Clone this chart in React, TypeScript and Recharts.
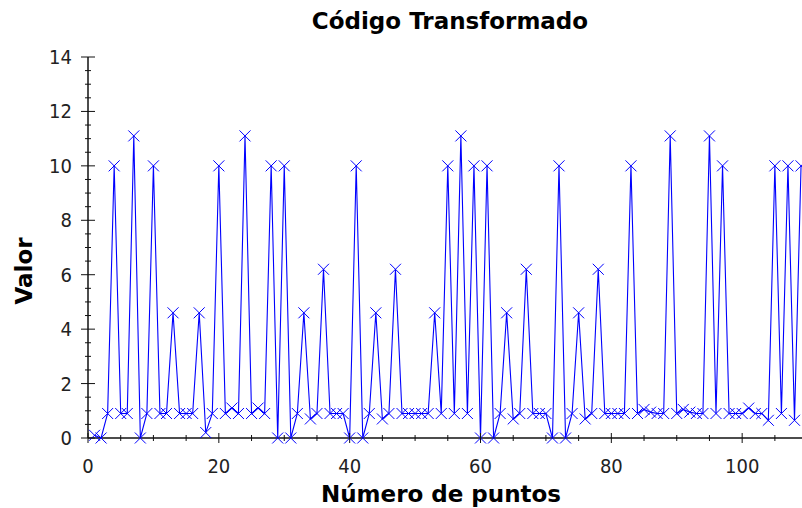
import { LineChart, Line, XAxis, YAxis } from 'recharts';

// values, one per point (points 1..109)
const valores = [
  0.1, 0, 0.9, 10, 0.9, 0.9, 11.1, 0, 0.9, 10,
  0.9, 0.9, 4.6, 0.9, 0.9, 0.9, 4.6, 0.2, 0.9, 10,
  0.9, 1.1, 0.9, 11.1, 0.9, 1.1, 0.9, 10, 0, 10,
  0, 0.9, 4.6, 0.7, 0.9, 6.2, 0.9, 0.9, 0.9, 0,
  10, 0, 0.9, 4.6, 0.7, 0.9, 6.2, 0.9, 0.9, 0.9,
  0.9, 0.9, 4.6, 0.9, 10, 0.9, 11.1, 0.9, 10, 0,
  10, 0, 0.9, 4.6, 0.7, 0.9, 6.2, 0.9, 0.9, 0.9,
  0, 10, 0, 0.9, 4.6, 0.7, 0.9, 6.2, 0.9, 0.9,
  0.9, 0.9, 10, 0.9, 1.05, 0.95, 0.9, 0.9, 11.1, 0.9,
  1.05, 0.95, 0.9, 0.9, 11.1, 0.9, 10, 0.9, 0.9, 0.9,
  1.1, 0.9, 0.9, 0.65, 10, 0.9, 10, 0.65, 10,
];

const xTicks = [0, 5, 10, 15, 20, 25, 30, 35, 40, 45, 50, 55, 60, 65, 70, 75, 80, 85, 90, 95, 100, 105, 110, 115, 120];
const xLabels = [0, 20, 40, 60, 80, 100];
const yTicks = [
  0, 0.5, 1, 1.5, 2, 2.5, 3, 3.5, 4, 4.5, 5, 5.5, 6, 6.5, 7,
  7.5, 8, 8.5, 9, 9.5, 10, 10.5, 11, 11.5, 12, 12.5, 13, 13.5, 14,
];
const yLabels = [0, 2, 4, 6, 8, 10, 12, 14];

const data = valores.map((valor, i) => ({ punto: i + 1, valor }));

const BLUE = '#0000ff';
const AXIS = '#111';
const tickFont = "'Liberation Sans Narrow', 'DejaVu Sans Condensed', 'Liberation Sans', sans-serif";
const titleFont = "'DejaVu Sans', Verdana, sans-serif";

function BottomTick({ x, y, payload }: any) {
  const major = xLabels.includes(payload.value);
  const len = major ? 5 : 3;
  return (
    <g>
      <line x1={x} x2={x} y1={y - len} y2={y + len} stroke={AXIS} />
      {major && (
        <text x={x} y={y + 35} textAnchor="middle" fontSize={20} fontFamily={tickFont} fill="#222">
          {payload.value}
        </text>
      )}
    </g>
  );
}

function TopTick({ x, y, payload }: any) {
  const major = xLabels.includes(payload.value);
  return <line x1={x} x2={x} y1={y} y2={y + (major ? 5 : 3)} stroke={AXIS} />;
}

function LeftTick({ x, y, payload }: any) {
  const major = yLabels.includes(payload.value);
  const len = major ? 7 : 3;
  return (
    <g>
      <line x1={x - len} x2={x + len} y1={y} y2={y} stroke={AXIS} />
      {major && (
        <text x={x - 16} y={y + 7} textAnchor="end" fontSize={20} fontFamily={tickFont} fill="#222">
          {payload.value}
        </text>
      )}
    </g>
  );
}

function Cruz(props: any) {
  const { cx, cy, index } = props;
  const s = 5.5;
  return (
    <path
      key={`c-${index}`}
      d={`M${cx - s},${cy - s}L${cx + s},${cy + s}M${cx + s},${cy - s}L${cx - s},${cy + s}`}
      stroke={BLUE}
      strokeWidth={1}
      fill="none"
    />
  );
}

export default function App() {
  return (
    <div
      style={{
        position: 'absolute',
        left: 0,
        top: 0,
        width: 802,
        height: 508,
        overflow: 'hidden',
        background: '#fff',
      }}
    >
      <div
        style={{
          position: 'absolute',
          left: 0,
          width: 900,
          top: 8,
          textAlign: 'center',
          fontFamily: titleFont,
          fontWeight: 'bold',
          fontSize: 23,
          color: '#000',
        }}
      >
        Código Transformado
      </div>
      <LineChart
        width={873}
        height={508}
        data={data}
        margin={{ top: 57, right: 0, bottom: 40, left: 0 }}
      >
        <XAxis
          xAxisId="top"
          orientation="top"
          type="number"
          dataKey="punto"
          domain={[0, 120]}
          ticks={xTicks}
          interval={0}
          height={0}
          tickSize={0}
          tickMargin={0}
          tickLine={false}
          tick={<TopTick />}
          axisLine={{ stroke: AXIS, strokeWidth: 1.5 }}
        />
        <XAxis
          type="number"
          dataKey="punto"
          domain={[0, 120]}
          ticks={xTicks}
          interval={0}
          height={30}
          tickSize={0}
          tickMargin={0}
          tickLine={false}
          tick={<BottomTick />}
          axisLine={{ stroke: AXIS, strokeWidth: 1.5 }}
        />
        <YAxis
          type="number"
          domain={[0, 14]}
          ticks={yTicks}
          interval={0}
          width={88}
          tickSize={0}
          tickMargin={0}
          tickLine={false}
          tick={<LeftTick />}
          axisLine={{ stroke: AXIS, strokeWidth: 1.5 }}
        />
        <Line
          type="linear"
          dataKey="valor"
          stroke={BLUE}
          strokeWidth={1.1}
          dot={(p: any) => <Cruz {...p} />}
          activeDot={false}
          isAnimationActive={false}
        />
      </LineChart>
      <div
        style={{
          position: 'absolute',
          left: 0,
          width: 882,
          top: 481,
          textAlign: 'center',
          fontFamily: titleFont,
          fontWeight: 'bold',
          fontSize: 23,
          color: '#000',
        }}
      >
        Número de puntos
      </div>
      <div
        style={{
          position: 'absolute',
          left: 24,
          top: 271,
          transform: 'translate(-50%, -50%) rotate(-90deg)',
          fontFamily: titleFont,
          fontWeight: 'bold',
          fontSize: 23,
          color: '#000',
          whiteSpace: 'nowrap',
        }}
      >
        Valor
      </div>
    </div>
  );
}
